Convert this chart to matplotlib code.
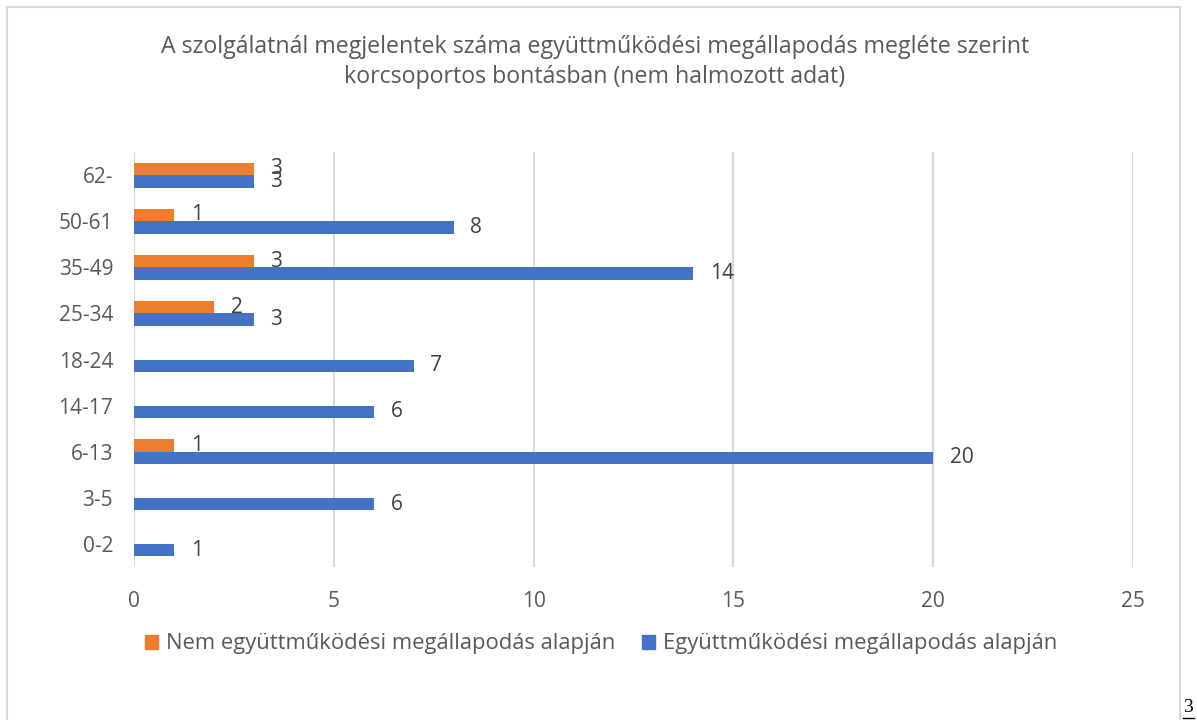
import numpy as np
import matplotlib as mpl
mpl.use('Agg')
import matplotlib.pyplot as plt
from matplotlib.patches import Rectangle, Patch
from matplotlib.lines import Line2D

categories = ['0-2', '3-5', '6-13', '14-17', '18-24', '25-34', '35-49', '50-61', '62-']
egyutt = [1, 6, 20, 6, 7, 3, 14, 8, 3]
nem_egyutt = [0, 0, 1, 0, 0, 2, 3, 1, 3]

title = ('A szolgálatnál megjelentek száma együttműködési megállapodás megléte szerint\n'
         'korcsoportos bontásban (nem halmozott adat)')
lbl_nem = 'Nem együttműködési megállapodás alapján'
lbl_egy = 'Együttműködési megállapodás alapján'

blue = '#4472C4'
orange = '#ED7D31'
txt = '#595959'
grid = '#D9D9D9'

plt.rcParams['font.family'] = ['Open Sans', 'DejaVu Sans']

fig = plt.figure(figsize=(11.97, 7.2), dpi=100)
ax = fig.add_axes([134/1197, 1-567/720, (1133-134)/1197, (567-152)/720])

y = np.arange(len(categories))
h = 0.27
ax.barh(y - h/2, egyutt, height=h, color=blue, zorder=3)
ax.barh(y + h/2, nem_egyutt, height=h, color=orange, zorder=3)

for yi, v in zip(y, egyutt):
    ax.annotate(str(v), (v, yi - h/2), xytext=(12, 0), textcoords='offset points',
                ha='left', va='center', fontsize=15, color='#404040')
for yi, v in zip(y, nem_egyutt):
    if v > 0:
        ax.annotate(str(v), (v, yi + h/2), xytext=(12, 0), textcoords='offset points',
                    ha='left', va='center', fontsize=15, color='#404040')

ax.set_xlim(0, 25)
ax.set_ylim(-0.5, len(categories) - 0.5)
ax.set_xticks(range(0, 26, 5))
ax.set_yticks(y)
ax.set_yticklabels(categories)
ax.tick_params(axis='both', length=0, labelsize=15, colors=txt)
ax.tick_params(axis='x', pad=17)
ax.tick_params(axis='y', pad=15)
ax.grid(axis='x', color=grid, linewidth=1.5, zorder=0)
ax.grid(axis='y', visible=False)
for s in ax.spines.values():
    s.set_visible(False)

fig.text(595/1197, 1-62/720, title, ha='center', va='center', fontsize=16.7,
         color=txt, linespacing=1.35)

handles = [Patch(color=orange), Patch(color=blue)]
fig.legend(handles, [lbl_nem, lbl_egy], loc='center', bbox_to_anchor=(601/1197, 1-644/720),
           ncol=2, frameon=False, fontsize=15.8, handlelength=0.6, handleheight=0.6,
           handletextpad=0.35, columnspacing=1.2, labelcolor=txt)

# chart border (bottom edge is off the page)
fig.patches.append(Rectangle((7/1197, -0.01), (1180-7)/1197, 1 - 7/720 + 0.01,
                             transform=fig.transFigure, fill=False, edgecolor=grid, linewidth=1.5))

# page number
fig.text(1188/1197, 1-707/720, '3', ha='center', va='center', fontsize=14,
         family='Liberation Serif', color='black')
fig.lines.append(Line2D([1183/1197, 1194/1197], [1-718/720, 1-718/720],
                        transform=fig.transFigure, color='black', linewidth=1))

fig.savefig('out.png', dpi=100)
